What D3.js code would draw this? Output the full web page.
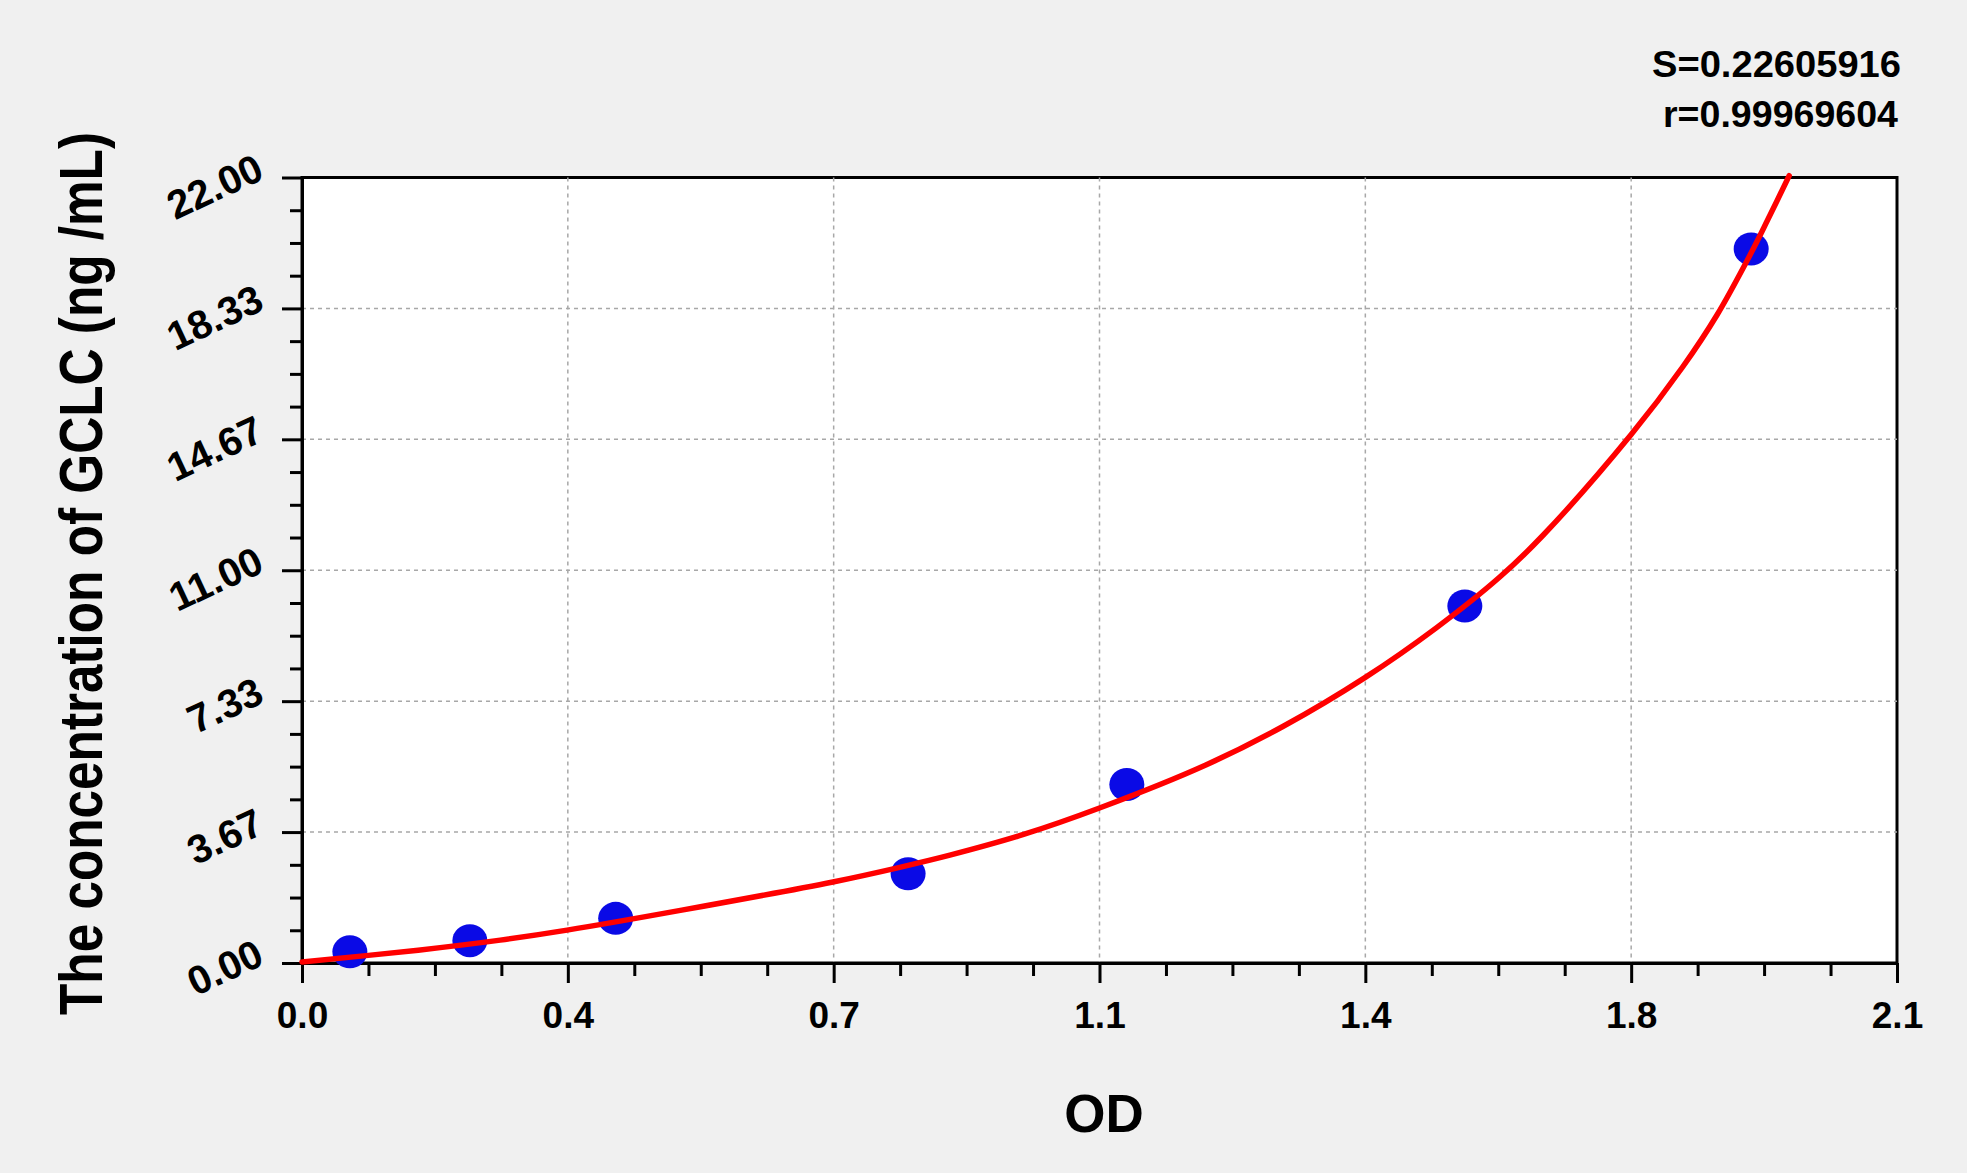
<!DOCTYPE html>
<html lang="en">
<head>
<meta charset="utf-8">
<title>GCLC standard curve</title>
<script src="https://cdn.jsdelivr.net/npm/d3@7/dist/d3.min.js"></script>
<style>
  body { margin: 0; background: #f0f0f0; }
  text { font-family: "Liberation Sans", Arial, sans-serif; font-weight: bold; fill: #000; }
  .grid line { stroke: #a8a8a8; stroke-width: 1.5; stroke-dasharray: 4 4; }
  .axis path, .axis line { stroke: #000; stroke-width: 3; }
</style>
</head>
<body>
<script>
// standards: measured OD and known concentration (ng/mL)
var odValues = [0.063, 0.221, 0.413, 0.798, 1.086, 1.531, 1.908];
var concValues = [0.312, 0.625, 1.25, 2.5, 5, 10, 20];

// fitted curve
var curveOD = [0, 0.153, 0.261, 0.349, 0.50, 0.699, 0.787, 0.853, 0.95, 1.05, 1.19, 1.292, 1.40,
               1.493, 1.577, 1.634, 1.75, 1.818, 1.863, 1.907, 1.929, 1.958];
var curveConc = [0.03, 0.36, 0.64, 0.92, 1.48, 2.27, 2.68, 3.02, 3.60, 4.34, 5.545, 6.63, 8.0,
                 9.38, 10.81, 11.98, 14.80, 16.70, 18.15, 19.85, 20.78, 22.05];

// axis ticks
var xTicks = [0, 0.35, 0.7, 1.05, 1.4, 1.75, 2.1];
var xTickLabels = ["0.0", "0.4", "0.7", "1.1", "1.4", "1.8", "2.1"];
var yTicks = [0, 3.6667, 7.3333, 11, 14.6667, 18.3333, 22];
var yTickLabels = ["0.00", "3.67", "7.33", "11.00", "14.67", "18.33", "22.00"];

var statS = "S=0.22605916";
var statR = "r=0.99969604";

var w = 1967, h = 1173;
// plot box edges (note: "top" is taken by window.top)
var pLeft = 302, pRight = 1897, pTop = 177.5, pBottom = 963;

var svg = d3.select("body").append("svg")
    .attr("width", w).attr("height", h);

svg.append("rect").attr("width", w).attr("height", h).attr("fill", "#f0f0f0");

var x = d3.scaleLinear().domain([0, 2.1]).range([pLeft, pRight]);
var y = d3.scaleLinear().domain([0, 22]).range([pBottom, pTop]);

// plot area
svg.append("rect")
    .attr("x", pLeft).attr("y", pTop)
    .attr("width", pRight - pLeft).attr("height", pBottom - pTop)
    .attr("fill", "#fff").attr("stroke", "#000").attr("stroke-width", 3);

// dashed grid on inner major ticks
var grid = svg.append("g").attr("class", "grid");
grid.selectAll(".vx").data(xTicks.slice(1, -1)).enter().append("line")
    .attr("x1", d => x(d)).attr("x2", d => x(d))
    .attr("y1", pTop).attr("y2", pBottom);
grid.selectAll(".hy").data(yTicks.slice(1, -1)).enter().append("line")
    .attr("x1", pLeft).attr("x2", pRight)
    .attr("y1", d => y(d)).attr("y2", d => y(d));

// minor ticks
var xMinor = d3.range(0, 24).map(i => i * 0.0875).filter((d, i) => i % 4 != 0);
var yMinor = d3.range(0, 24).map(i => i * 22 / 24).filter((d, i) => i % 4 != 0);

svg.append("g").attr("class", "axis")
    .attr("transform", "translate(0," + pBottom + ")")
    .call(d3.axisBottom(x).tickValues(xMinor).tickSize(13).tickSizeOuter(0).tickFormat(""));
svg.append("g").attr("class", "axis")
    .attr("transform", "translate(" + pLeft + ",0)")
    .call(d3.axisLeft(y).tickValues(yMinor).tickSize(12).tickSizeOuter(0).tickFormat(""));

// major ticks + labels
var xAxis = svg.append("g").attr("class", "axis")
    .attr("transform", "translate(0," + pBottom + ")")
    .call(d3.axisBottom(x).tickValues(xTicks).tickSize(20).tickSizeOuter(0)
        .tickFormat((d, i) => xTickLabels[i]));
xAxis.selectAll("text")
    .attr("y", 65).attr("dy", null)
    .style("font-size", "37px");

var yAxis = svg.append("g").attr("class", "axis")
    .attr("transform", "translate(" + pLeft + ",0)")
    .call(d3.axisLeft(y).tickValues(yTicks).tickSize(20).tickSizeOuter(0)
        .tickFormat((d, i) => yTickLabels[i]));
yAxis.selectAll("text")
    .attr("x", null).attr("dy", null)
    .attr("text-anchor", "end")
    .attr("transform", "translate(-36,0) rotate(-25)")
    .style("font-size", "40px");

// standards
svg.append("g").selectAll("ellipse")
    .data(odValues).enter().append("ellipse")
    .attr("cx", d => x(d))
    .attr("cy", (d, i) => y(concValues[i]))
    .attr("rx", 17.5).attr("ry", 16.5)
    .attr("fill", "#0a0ae6");

// fitted curve
var line = d3.line()
    .x(d => x(d))
    .y((d, i) => y(curveConc[i]))
    .curve(d3.curveCatmullRom.alpha(0.5));

svg.append("path")
    .datum(curveOD)
    .attr("d", line)
    .attr("fill", "none")
    .attr("stroke", "#ff0000")
    .attr("stroke-width", 5.5)
    .attr("stroke-linecap", "round");

// labels
svg.append("text")
    .attr("x", 1104).attr("y", 1132)
    .attr("text-anchor", "middle")
    .style("font-size", "53px")
    .text("OD");

svg.append("text")
    .attr("transform", "translate(102,573.5) rotate(-90)")
    .attr("text-anchor", "middle")
    .attr("textLength", 883).attr("lengthAdjust", "spacingAndGlyphs")
    .style("font-size", "62px")
    .text("The concentration of GCLC (ng /mL)");

svg.append("text")
    .attr("x", 1901).attr("y", 77)
    .attr("text-anchor", "end")
    .attr("textLength", 249).attr("lengthAdjust", "spacingAndGlyphs")
    .style("font-size", "37px")
    .text(statS);

svg.append("text")
    .attr("x", 1898).attr("y", 127)
    .attr("text-anchor", "end")
    .attr("textLength", 235).attr("lengthAdjust", "spacingAndGlyphs")
    .style("font-size", "37px")
    .text(statR);
</script>
</body>
</html>
